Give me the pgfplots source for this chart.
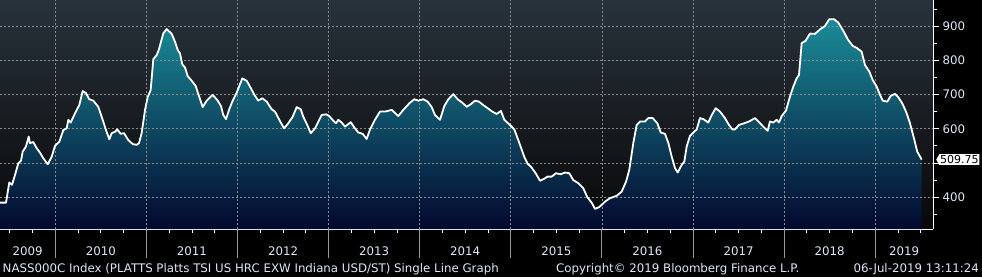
\documentclass[border=0pt]{standalone}
\usepackage{pgfplots}
\pgfplotsset{compat=1.18}
\usepackage{pgfplotstable}
\usepackage{fontspec}
\setmainfont{DejaVu Sans}
\usetikzlibrary{shapes.symbols}
\definecolor{txt}{RGB}{222,230,245}
\definecolor{bgtop}{RGB}{40,50,60}
\definecolor{bgmid}{RGB}{20,23,27}
\definecolor{bgbot}{RGB}{8,8,8}
\definecolor{filltop}{RGB}{26,140,152}
\definecolor{fillmid}{RGB}{12,74,106}
\definecolor{fillbot}{RGB}{3,8,46}
\definecolor{gridc}{RGB}{140,140,140}

% x = years since 1 Jan 2009
\pgfplotstableread{
x y
0.393 384
0.412 384
0.459 384
0.495 443
0.525 436
0.558 465
0.594 499
0.624 507
0.642 533
0.678 548
0.708 577
0.722 558
0.759 561
0.796 543
0.832 530
0.868 514
0.917 496
0.960 518
0.997 550
1.044 562
1.088 596
1.125 601
1.143 626
1.169 618
1.216 645
1.263 669
1.301 710
1.337 704
1.373 686
1.417 682
1.472 664
1.509 635
1.557 596
1.593 569
1.619 587
1.655 591
1.681 598
1.718 585
1.754 587
1.801 567
1.850 555
1.894 553
1.919 558
1.948 587
1.985 655
2.014 692
2.047 713
2.076 803
2.113 815
2.138 832
2.186 879
2.223 891
2.278 877
2.314 854
2.344 830
2.369 820
2.394 788
2.424 779
2.453 754
2.497 740
2.541 725
2.577 696
2.618 663
2.662 682
2.728 699
2.783 682
2.819 666
2.844 640
2.874 628
2.910 657
2.943 679
2.991 705
3.053 747
3.101 740
3.148 718
3.185 699
3.228 682
3.272 689
3.321 679
3.375 657
3.412 650
3.459 626
3.511 601
3.558 616
3.606 635
3.650 663
3.694 657
3.722 635
3.766 611
3.804 587
3.851 601
3.924 640
3.972 642
4.008 637
4.052 623
4.081 616
4.107 626
4.144 618
4.180 606
4.243 619
4.290 601
4.326 589
4.374 585
4.418 570
4.455 598
4.509 626
4.564 650
4.619 650
4.693 655
4.765 637
4.820 655
4.893 676
4.941 686
4.985 682
5.040 686
5.088 679
5.132 663
5.168 640
5.223 626
5.270 666
5.314 686
5.369 701
5.417 686
5.468 676
5.516 664
5.563 672
5.607 682
5.651 679
5.698 669
5.746 660
5.797 650
5.845 643
5.892 652
5.929 626
5.991 611
6.039 598
6.101 553
6.148 518
6.186 497
6.222 489
6.273 470
6.321 448
6.376 455
6.401 460
6.449 460
6.496 470
6.548 467
6.595 472
6.642 470
6.686 450
6.741 441
6.796 426
6.840 400
6.888 384
6.924 366
6.972 371
7.034 387
7.089 397
7.163 404
7.217 416
7.265 445
7.301 480
7.345 558
7.382 611
7.419 621
7.473 621
7.510 631
7.558 631
7.609 616
7.646 589
7.693 585
7.729 559
7.767 518
7.803 485
7.832 472
7.876 494
7.905 504
7.931 548
7.967 579
8.004 589
8.041 598
8.077 631
8.114 628
8.168 618
8.206 640
8.249 660
8.297 650
8.351 631
8.395 611
8.432 598
8.461 598
8.505 611
8.563 616
8.615 621
8.681 631
8.736 616
8.791 601
8.820 594
8.845 621
8.882 618
8.919 626
8.944 618
8.974 637
9.021 653
9.065 694
9.101 723
9.138 747
9.164 757
9.193 850
9.237 857
9.284 878
9.339 877
9.394 890
9.449 900
9.496 920
9.548 920
9.595 910
9.650 886
9.705 859
9.753 842
9.804 835
9.852 825
9.888 786
9.936 767
9.973 742
10.017 723
10.053 699
10.083 682
10.133 679
10.171 696
10.218 702
10.254 692
10.302 672
10.346 645
10.382 616
10.426 572
10.462 533
10.511 509.75
}\hrc

\begin{document}
\begin{tikzpicture}[font=\fontsize{11.8}{14}\selectfont]
\path[use as bounding box, fill=black] (0,-48pt) rectangle (982pt,229pt);
\begin{axis}[
  scale only axis, width=933pt, height=229pt,
  xmin=0.393, xmax=10.635, ymin=307, ymax=976,
  clip=false,
  axis x line*=bottom, axis y line*=right,
  axis line style={-, white, line width=1pt},
  axis background/.style={top color=bgtop, middle color=bgmid, bottom color=bgbot},
  xtick={0.697,1.5,2.5,3.5,4.5,5.5,6.5,7.5,8.5,9.5,10.318},
  xticklabels={2009,2010,2011,2012,2013,2014,2015,2016,2017,2018,2019},
  minor xtick={0.5,0.75,1,1.25,1.5,1.75,2,2.25,2.5,2.75,3,3.25,3.5,3.75,4,4.25,4.5,4.75,5,5.25,5.5,5.75,6,6.25,6.5,6.75,7,7.25,7.5,7.75,8,8.25,8.5,8.75,9,9.25,9.5,9.75,10,10.25,10.5},
  ytick={400,500,600,700,800,900},
  yticklabels={400,,600,700,800,900},
  minor ytick={350,450,550,650,750,850,950},
  tick align=outside, major tick length=6pt, minor tick length=4pt,
  major x tick style={draw=none},
  minor x tick style={white, line width=0.8pt},
  y tick style={white, line width=0.8pt},
  ticklabel style={text=txt},
  xticklabel style={yshift=-8pt},
  /pgf/number format/assume math mode=true,
]
\addplot[draw=none, top color=filltop, middle color=fillmid, bottom color=fillbot]
  table[x=x,y=y]{\hrc} -- (axis cs:10.511,307) -- (axis cs:0.393,307) -- cycle;
\pgfplotsinvokeforeach{1,2,3,4,5,6,7,8,9,10}{
  \draw[gridc, line width=0.6pt, dash pattern=on 2pt off 2pt] (axis cs:#1,307) -- (axis cs:#1,976);
  \draw[gridc!90!white, line width=0.9pt] (axis cs:#1,307) -- ([yshift=-29pt]axis cs:#1,307);
}
\pgfplotsinvokeforeach{400,500,600,700,800,900}{
  \draw[gridc, line width=0.6pt, dash pattern=on 2pt off 2pt] (axis cs:0.393,#1) -- (axis cs:10.635,#1);
}
\addplot[white, line width=1.8pt, line join=round] table[x=x,y=y]{\hrc};
\coordinate (last) at (axis cs:10.635,509.75);
\end{axis}
\node[signal, signal to=west, signal pointer angle=120, fill=white, text=black, font=\fontsize{11}{13}\selectfont, inner xsep=0.8pt, inner ysep=1.2pt, anchor=west] at ([xshift=3pt]last) {509.75};
\node[anchor=base west, inner sep=0, text=txt] at (2.5pt,-43pt) {NASS000C Index (PLATTS Platts TSI US HRC EXW Indiana USD/ST) Single Line Graph};
\node[anchor=base west, inner sep=0, text=txt] at (556pt,-43pt) {Copyright© 2019 Bloomberg Finance L.P.};
\node[anchor=base east, inner sep=0, text=txt] at (979pt,-43pt) {06-Jul-2019 13:11:24};
\end{tikzpicture}
\end{document}
